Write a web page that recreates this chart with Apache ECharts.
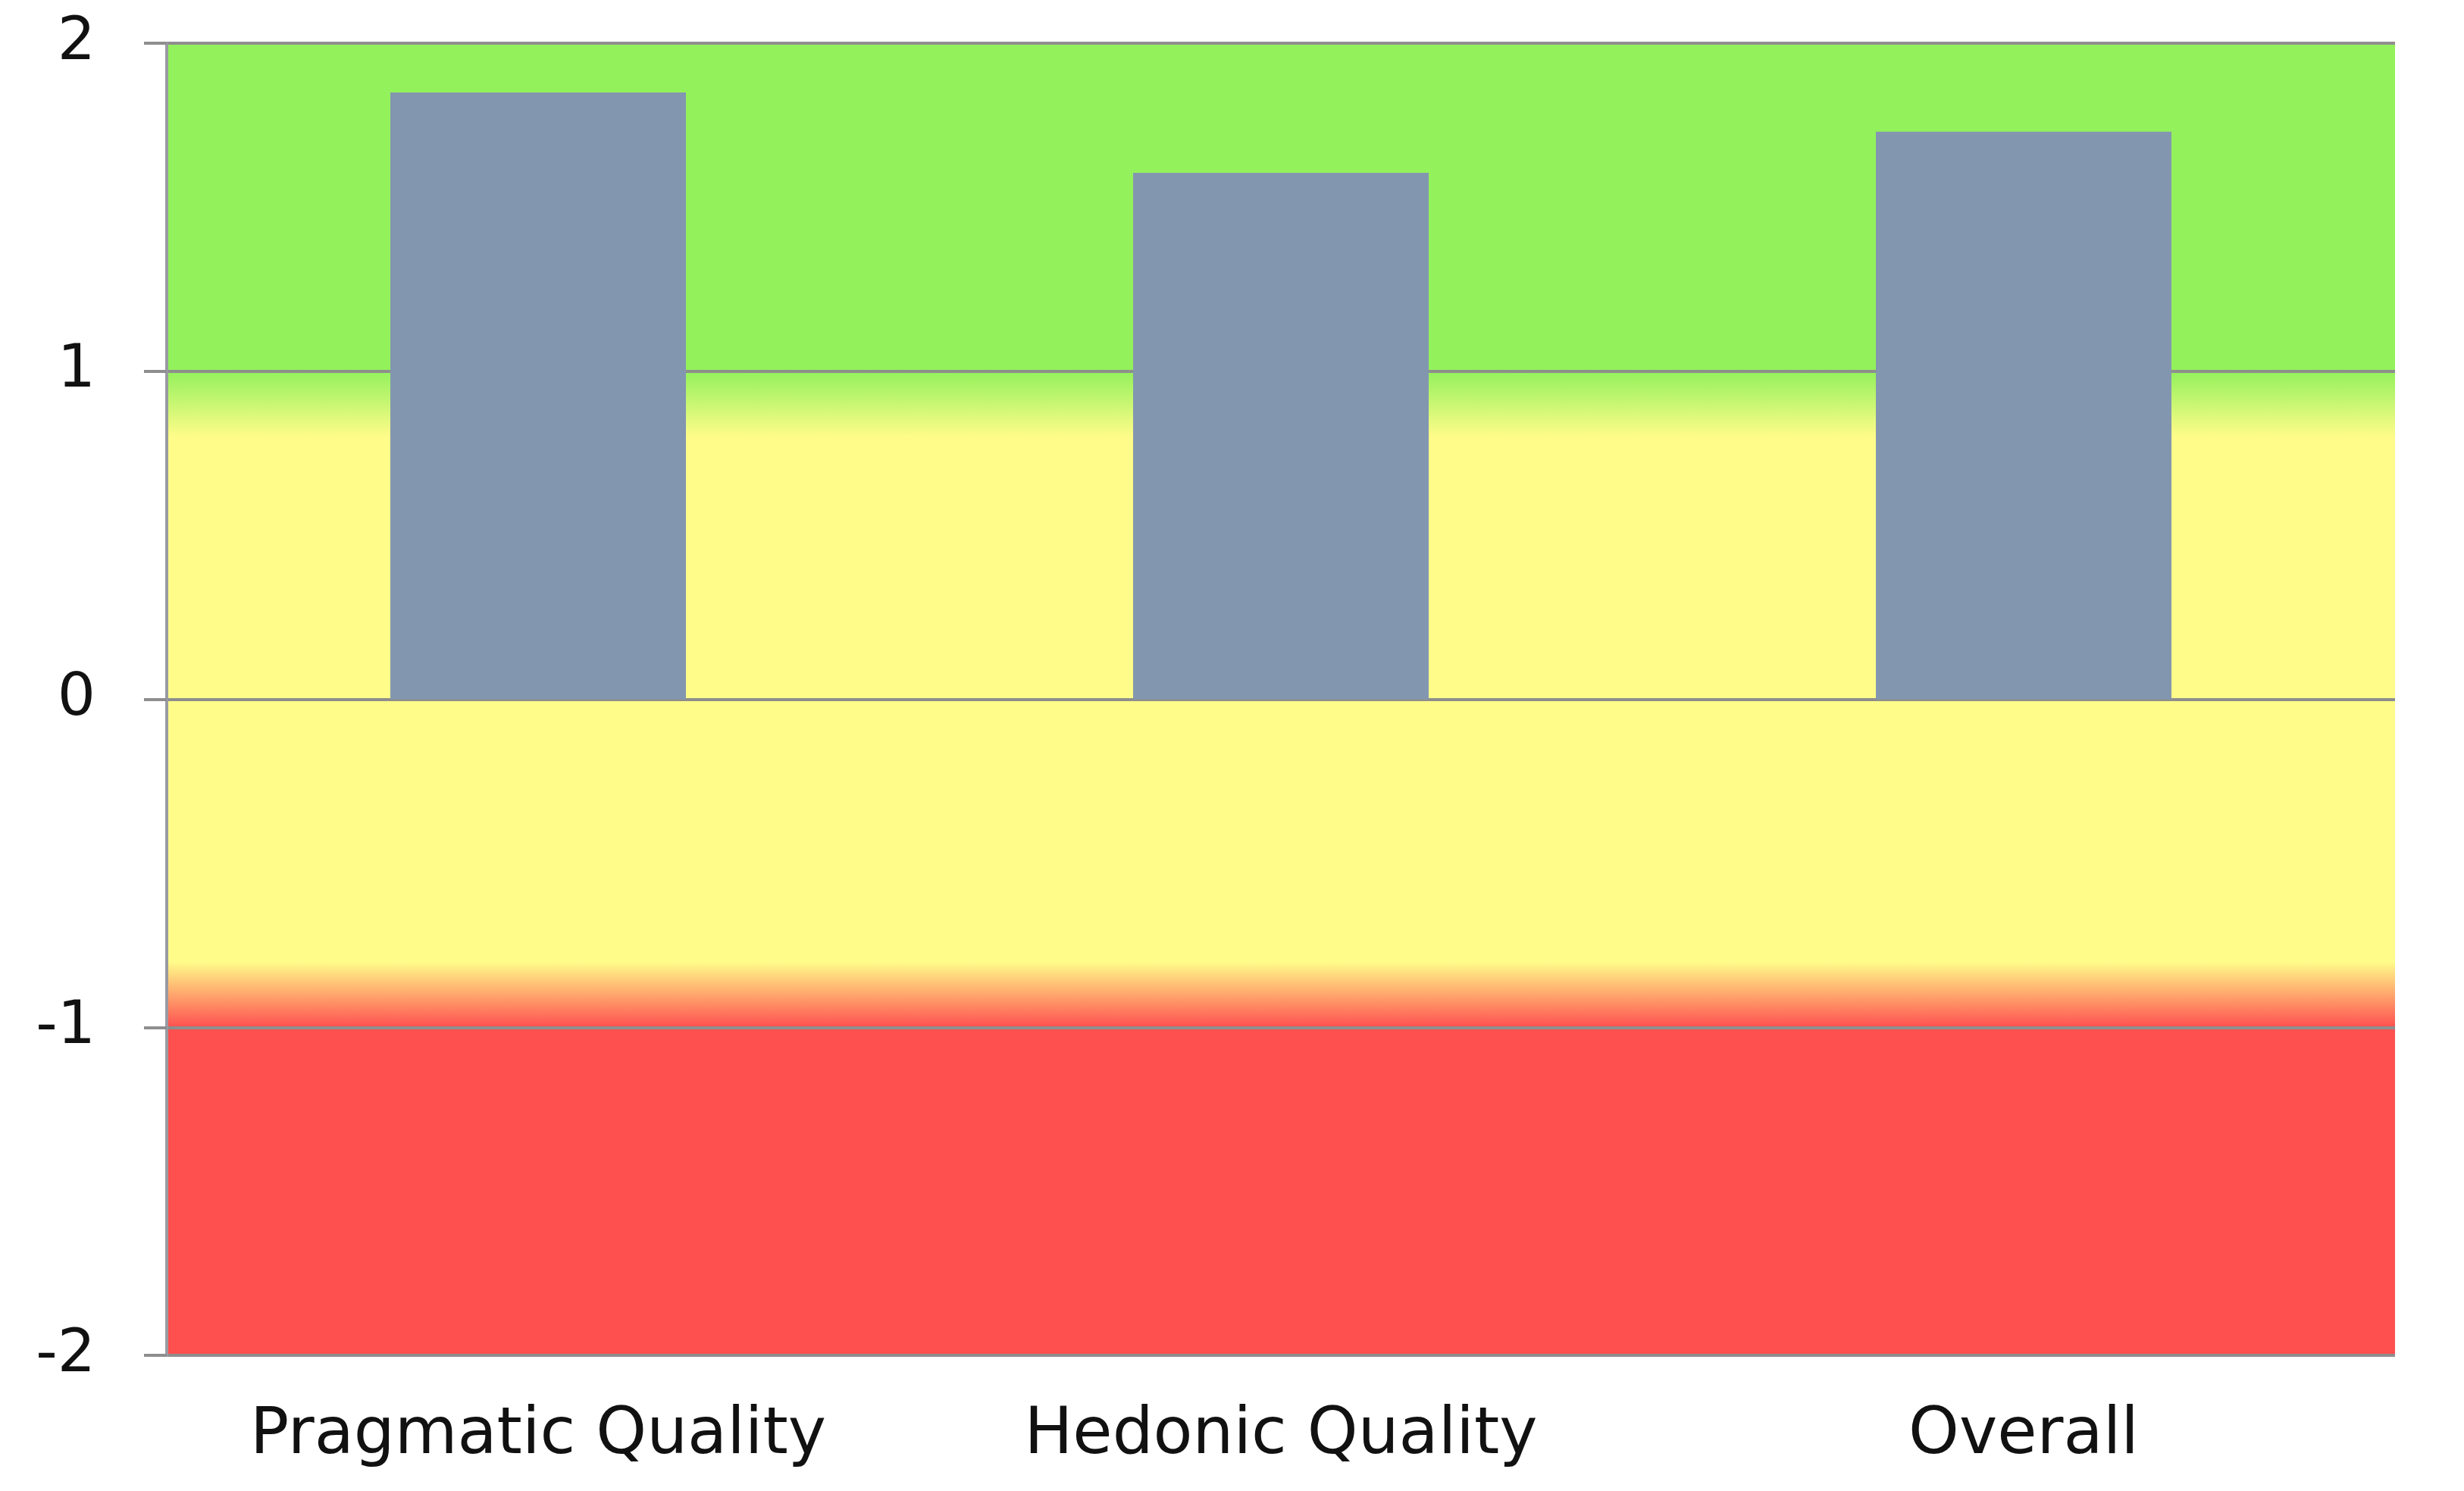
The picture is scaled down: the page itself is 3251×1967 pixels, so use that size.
<!DOCTYPE html>
<html>
<head>
<meta charset="utf-8">
<script src="https://cdn.jsdelivr.net/npm/echarts@6/dist/echarts.min.js"></script>
<style>
html,body{margin:0;padding:0;background:#fff;}
#chart{width:3251px;height:1967px;}
</style>
</head>
<body>
<div id="chart"></div>
<script>
// ---- data ----
const categories = ['Pragmatic Quality', 'Hedonic Quality', 'Overall'];
const scores = [1.85, 1.605, 1.73];
const yTicks = [-2, -1, 0, 1, 2];
// background zones: value boundaries and colours (top to bottom)
const zoneValues = [2, 1, 0.8, -0.8, -1, -2];
const zoneColors = ['#93F15C', '#93F15C', '#FFFC8A', '#FFFC8A', '#FF5050', '#FF5050'];

const yMin = yTicks[0], yMax = yTicks[yTicks.length - 1];
const stops = zoneValues.map((v, i) => ({
  offset: (yMax - v) / (yMax - yMin),
  color: zoneColors[i]
}));

const chart = echarts.init(document.getElementById('chart'), null, {renderer: 'canvas'});
const font = 'DejaVu Sans';
chart.setOption({
  animation: false,
  backgroundColor: '#ffffff',
  grid: {
    left: 220, right: 91, top: 57, bottom: 179,
    show: true, borderWidth: 0, z: -1,
    backgroundColor: new echarts.graphic.LinearGradient(0, 0, 0, 1, stops)
  },
  xAxis: {
    type: 'category',
    data: categories,
    axisLine: {show: false},
    axisTick: {show: false},
    axisLabel: {
      color: '#111', fontFamily: font, fontSize: 85, margin: 64,
      interval: 0, hideOverlap: false
    },
    z: 1
  },
  yAxis: {
    type: 'value',
    min: yMin, max: yMax, interval: 1,
    axisLine: {show: true, lineStyle: {color: '#999aa2', width: 4}},
    axisTick: {show: true, length: 30, lineStyle: {color: '#8e8e8e', width: 4}},
    splitLine: {show: true, lineStyle: {color: '#8e8e8e', width: 4}},
    axisLabel: {
      color: '#111', fontFamily: font, fontSize: 79, margin: 94
    },
    z: 1
  },
  series: [{
    type: 'bar',
    data: scores,
    barWidth: 390,
    itemStyle: {color: '#8396AF'},
    z: 3
  }]
});
</script>
</body>
</html>
